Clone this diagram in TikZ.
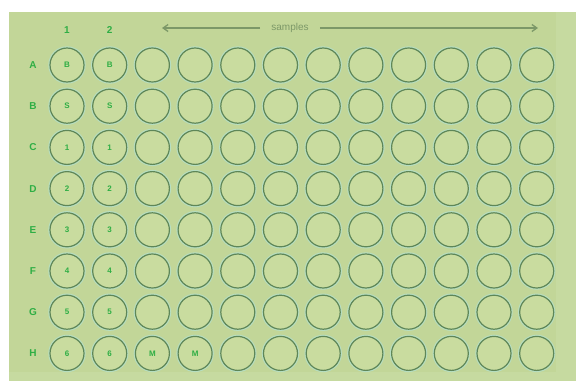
\documentclass[tikz,border=0pt]{standalone}
\usepackage{fontspec}
\setmainfont{Liberation Sans}
\usetikzlibrary{arrows.meta, positioning}
\definecolor{plateedge}{HTML}{C6DAA0}
\definecolor{platebg}{HTML}{C2D698}
\definecolor{wellline}{HTML}{5E8658}
\definecolor{wellhalo}{HTML}{B6DEC0}
\definecolor{wellfill}{HTML}{C9DC9F}
\definecolor{labelgreen}{HTML}{2EAE44}
\definecolor{arrowgrey}{HTML}{7C9868}

\begin{document}
\begin{tikzpicture}[
    x=1pt, y=-1pt,
    well/.style={
        circle, draw=wellline, fill=wellfill, line width=1.2pt,
        minimum size=34pt, inner sep=0pt,
        preaction={draw=wellhalo, line width=3.4pt}
    },
    welltext/.style={text=labelgreen, font=\fontsize{8}{8}\selectfont\bfseries},
    rowlabel/.style={text=labelgreen, font=\fontsize{10}{10}\selectfont\bfseries},
    collabel/.style={text=labelgreen, font=\fontsize{10}{10}\selectfont\bfseries},
    arrow/.style={-{Straight Barb[length=5pt, width=7pt]}, line width=1.3pt, draw=arrowgrey},
]

% Background and plate
\useasboundingbox (0,0) rectangle (576,381);
\fill[white] (0,0) rectangle (576,381);
\fill[plateedge] (9,12) rectangle (576,381);
\fill[platebg] (9,12) rectangle (556,372);

% Wells, row labels
\foreach \r [count=\j] in {A,B,C,D,E,F,G,H} {
    \node[rowlabel] (row-\r) at (33, {65+41.2*(\j-1)}) {\r};
    \foreach \c in {1,...,12}
        \node[well] (w-\r-\c) at ({67+42.7*(\c-1)}, {65+41.2*(\j-1)}) {};
}

% Column labels
\node[collabel] (col-1) at (67,30) {1};
\node[collabel] (col-2) at (109.7,30) {2};

% Contents of the wells
\foreach \r/\t in {A/B, B/S, C/1, D/2, E/3, F/4, G/5, H/6} {
    \node[welltext] at (w-\r-1) {\t};
    \node[welltext] at (w-\r-2) {\t};
}
\node[welltext] at (w-H-3) {M};
\node[welltext] at (w-H-4) {M};

% Samples arrow
\node[text=arrowgrey, font=\fontsize{10}{10}\selectfont, inner xsep=11pt] (samples) at (290,28) {samples};
\coordinate (samples-left) at (162,28);
\coordinate (samples-right) at (538,28);
\draw[arrow] (samples.west) -- (samples-left);
\draw[arrow] (samples.east) -- (samples-right);

\end{tikzpicture}
\end{document}
